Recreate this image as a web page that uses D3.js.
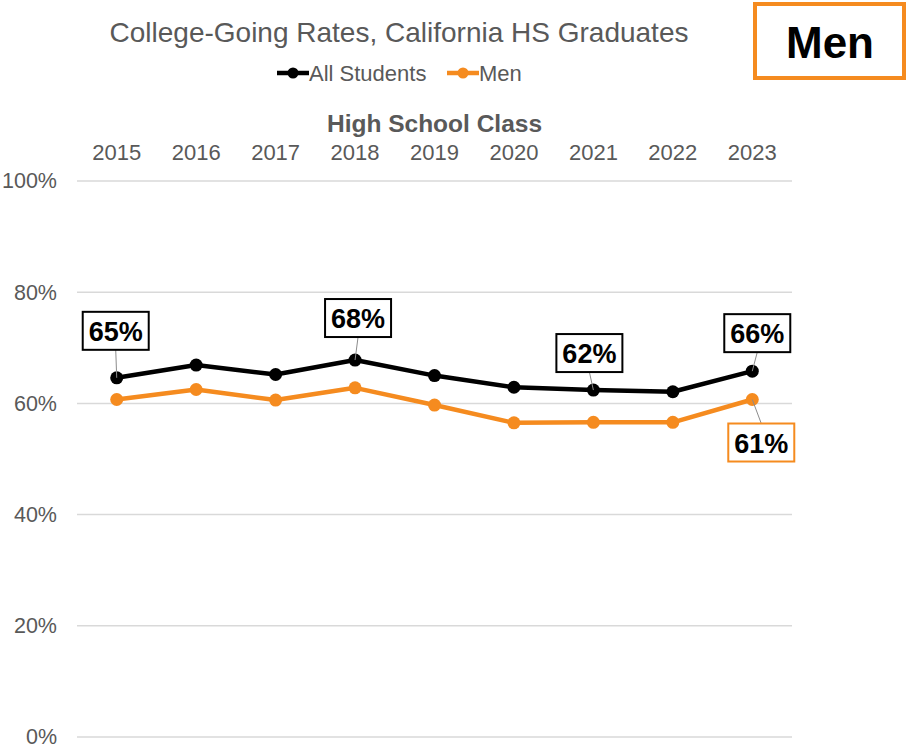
<!DOCTYPE html>
<html>
<head>
<meta charset="utf-8">
<script src="https://cdn.jsdelivr.net/npm/d3@7"></script>
<style>
  html, body { margin: 0; padding: 0; background: #fff; }
  svg { display: block; font-family: "Liberation Sans", Arial, sans-serif; }
</style>
</head>
<body>
<svg id="chart" width="907" height="750"></svg>
<script>
// Class years and college-going rates (%)
const years = ["2015", "2016", "2017", "2018", "2019", "2020", "2021", "2022", "2023"];
const allStudents = [64.6, 66.9, 65.2, 67.8, 65.0, 62.9, 62.4, 62.1, 65.8];
const men = [60.7, 62.5, 60.6, 62.8, 59.7, 56.5, 56.6, 56.6, 60.7];
const yTicks = [0, 20, 40, 60, 80, 100];

// Which points carry a value callout
const allLabelIdx = [0, 3, 6, 8];
const menLabelIdx = [8];

const svg = d3.select("#chart");
const plotLeft = 77, plotRight = 792, plotTop = 181, plotBottom = 737;

const x = d3.scaleBand().domain(years).range([plotLeft, plotRight]);
const y = d3.scaleLinear().domain([0, 100]).range([plotBottom, plotTop]);
const cx = d => x(d) + x.bandwidth() / 2;

// Gridlines
svg.append("g").selectAll("line").data(yTicks).join("line")
  .attr("x1", plotLeft).attr("x2", plotRight)
  .attr("y1", d => y(d)).attr("y2", d => y(d))
  .attr("stroke", "#d9d9d9").attr("stroke-width", 1.5);

// Y axis labels
const yAxis = svg.append("g").attr("transform", `translate(${plotLeft},0)`)
  .call(d3.axisLeft(y).tickValues(yTicks).tickFormat(d => d + "%").tickSize(0).tickPadding(20));
yAxis.select(".domain").remove();
yAxis.selectAll("text").attr("font-size", 21.5).attr("fill", "#595959")
  .attr("font-family", "Liberation Sans, Arial, sans-serif");

// X axis (on top)
const xAxis = svg.append("g").attr("transform", `translate(0,${plotTop})`)
  .call(d3.axisTop(x).tickSize(0).tickPadding(21));
xAxis.select(".domain").remove();
xAxis.selectAll("text").attr("font-size", 22).attr("fill", "#595959")
  .attr("font-family", "Liberation Sans, Arial, sans-serif");

svg.append("text").attr("x", (plotLeft + plotRight) / 2).attr("y", 132)
  .attr("text-anchor", "middle").attr("font-size", 24.5).attr("font-weight", "bold")
  .attr("fill", "#595959").text("High School Class");

// Title
svg.append("text").attr("x", 399).attr("y", 42)
  .attr("text-anchor", "middle").attr("font-size", 28).attr("fill", "#595959")
  .text("College-Going Rates, California HS Graduates");

// Legend
const legend = [
  { name: "All Students", color: "#000000", x: 277 },
  { name: "Men", color: "#f58b1f", x: 447 }
];
const lg = svg.append("g").selectAll("g").data(legend).join("g")
  .attr("transform", d => `translate(${d.x},73)`);
lg.append("line").attr("x1", 0).attr("x2", 32).attr("stroke", d => d.color).attr("stroke-width", 4.5);
lg.append("circle").attr("cx", 16).attr("r", 5.5).attr("fill", d => d.color);
lg.append("text").attr("x", 32).attr("y", 8).attr("font-size", 22).attr("fill", "#595959").text(d => d.name);

// Series lines
const line = d3.line().x((d, i) => cx(years[i])).y(d => y(d));
const series = [
  { values: men, color: "#f58b1f" },
  { values: allStudents, color: "#000000" }
];
series.forEach(s => {
  svg.append("path").datum(s.values).attr("d", line)
    .attr("fill", "none").attr("stroke", s.color).attr("stroke-width", 4.5)
    .attr("stroke-linejoin", "round");
  svg.append("g").selectAll("circle").data(s.values).join("circle")
    .attr("cx", (d, i) => cx(years[i])).attr("cy", d => y(d))
    .attr("r", 6.5).attr("fill", s.color);
});

// Value callouts: box centre offset from point
const callouts = [
  ...allLabelIdx.map(i => ({ i, v: allStudents[i], border: "#000000" })),
  ...menLabelIdx.map(i => ({ i, v: men[i], border: "#f58b1f" }))
];
const offsets = {
  "0-#000000": [-1, -47], "3-#000000": [3, -42], "6-#000000": [-4, -37],
  "8-#000000": [5, -38], "8-#f58b1f": [9, 43]
};
const bw = 66, bh = 38;
callouts.forEach(c => {
  const px = cx(years[c.i]), py = y(c.v);
  const [dx, dy] = offsets[`${c.i}-${c.border}`];
  const bx = px + dx, by = py + dy;
  const edgeY = dy < 0 ? by + bh / 2 : by - bh / 2;
  svg.append("line").attr("x1", px).attr("y1", py).attr("x2", bx).attr("y2", edgeY)
    .attr("stroke", "#8c8c8c").attr("stroke-width", 1);
  svg.append("rect").attr("x", bx - bw / 2).attr("y", by - bh / 2)
    .attr("width", bw).attr("height", bh).attr("fill", "#fff")
    .attr("stroke", c.border).attr("stroke-width", 2);
  svg.append("text").attr("x", bx).attr("y", by + 10)
    .attr("text-anchor", "middle").attr("font-size", 27).attr("font-weight", "bold")
    .attr("fill", "#000").text(Math.round(c.v) + "%");
});

// Subgroup tag
svg.append("rect").attr("x", 755).attr("y", 4).attr("width", 149).attr("height", 74)
  .attr("fill", "#fff").attr("stroke", "#f58b1f").attr("stroke-width", 4);
svg.append("text").attr("x", 830).attr("y", 58).attr("text-anchor", "middle")
  .attr("font-size", 44).attr("font-weight", "bold").attr("fill", "#000").text("Men");
</script>
</body>
</html>
